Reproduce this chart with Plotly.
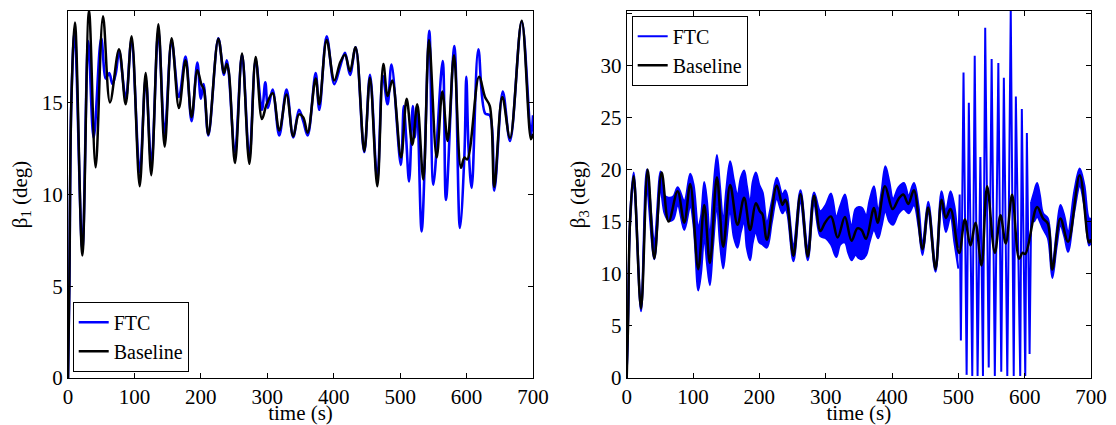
import plotly.graph_objects as go

# ---------------- data ----------------
x_ticks = [0, 100, 200, 300, 400, 500, 600, 700]
y1_ticks = [0, 5, 10, 15]
y3_ticks = [0, 5, 10, 15, 20, 25, 30, 35]

# Baseline pitch (identical for beta_1 and beta_3)
t_base = [0, 2, 5, 10.5, 21.6, 31.6, 41.6, 52.7, 63.2, 76.8, 86.8, 95.8, 107.9, 116.9,
          125.4, 136, 145.5, 156, 167, 177, 186, 194.7, 200.7, 204.7, 211.3, 226.3, 234.8,
          238.9, 242, 251.4, 262, 273, 282.5, 292, 299, 308, 318, 329, 339, 347.7, 354,
          360.8, 372.8, 378.3, 389.4, 400.9, 410, 417, 424.5, 433, 446, 454.6, 465.6,
          474.7, 481.2, 488.2, 501.3, 509.8, 518.3, 525.8, 534.9, 543.4, 555, 563.5, 571.5,
          581, 591.6, 596.6, 601, 618.7, 627.7, 635, 641.7, 653.8, 665.4, 683, 697, 700]
beta_base = [0, 5, 15, 19.35, 6.67, 20.0, 11.47, 19.7, 15.0, 17.9, 14.9, 18.6, 10.44, 16.6,
             11.04, 19.26, 12.6, 18.5, 14.7, 17.3, 14.2, 16.75, 16.0, 15.7, 13.26, 18.47, 16.6,
             17.1, 16.7, 11.7, 17.66, 11.66, 17.47, 14.1, 14.9, 15.5, 13.47, 15.44, 13.16, 14.35, 14.2,
             13.35, 16.3, 14.9, 18.4, 16.2, 17.2, 17.6, 16.7, 18.0, 12.35, 16.35, 10.44,
             17.1, 15.35, 16.2, 12.0, 15.2, 12.7, 14.9, 10.8, 18.4, 12.0, 15.6, 12.9,
             17.57, 11.44, 12.0, 11.9, 16.4, 15.3, 14.8, 10.4, 15.3, 13.07, 19.45, 13.0, 13.3]

# FTC beta_1
t_ftc1 = [0, 2, 5, 10, 21.6, 30.5, 38.6, 50, 57, 62, 67, 72, 77, 87, 95.5, 108, 117, 125.5,
          136, 145.5, 156, 167, 177, 186, 194.7, 200, 204, 211.3, 226.3, 234.8, 239, 242,
          251.4, 262, 273, 282.5, 292, 297, 301, 308, 318, 329, 339, 347.7, 354, 360.8,
          372.8, 378.3, 389.4, 400.9, 410, 417, 424.5, 433, 446, 454.6, 465.6, 474, 481, 487,
          501, 505.5, 509, 513.5, 519, 522, 525.5, 532.4, 543.9, 550, 564, 569, 581.6, 590,
          596.8, 599.6, 603, 607.7, 617.7, 628, 635, 641.7, 654.5, 665.4, 683, 697, 700]
beta1_ftc = [0, 5, 15, 18.9, 7.0, 18.35, 13.07, 18.5, 16.3, 16.6, 16.0, 16.6, 17.8, 15.2, 18.4,
             11.2, 16.3, 11.6, 18.9, 13.3, 18.3, 15.3, 17.5, 13.98, 17.17, 15.2, 16.0, 13.2, 18.5,
             16.5, 17.3, 16.6, 12.3, 17.6, 12.0, 17.3, 14.6, 16.1, 14.7, 15.7, 13.2, 15.7, 13.1,
             14.6, 14.0, 13.2, 16.6, 14.6, 18.6, 16.0, 17.0, 17.7, 16.5, 18.0, 12.3, 16.5, 10.8,
             16.44, 14.9, 17.07, 11.6, 14.8, 13.1, 10.7, 14.8, 13.1, 14.8, 7.98, 18.9, 10.53,
             17.26, 9.7, 18.07, 8.17, 12.2, 16.4, 12.5, 10.35, 17.9, 14.4, 14.3, 10.2, 15.6,
             12.9, 19.4, 13.2, 14.3]

# FTC beta_3: fast oscillation seen as a band (upper / lower envelope), 0-500 s
t_band_a = [0, 2, 5, 10.5, 21.6, 30.5, 41.6, 51, 57, 63, 70, 77, 86.8, 95.8, 101, 107.9, 112,
            116.9, 121, 125.4, 130, 136, 140.5, 145.5, 150, 156, 161.5, 167, 172, 177, 181,
            186, 190, 194.7, 200, 205, 211.3, 219, 226.3, 234.8, 238.9, 242, 251.4, 262, 273,
            282.5, 292, 300, 308, 316, 322, 329, 334, 339, 345, 350, 355, 361, 366, 372.8,
            379, 384, 390, 396, 401.5, 410, 418, 425, 433, 440, 446, 454.6, 465.6, 474.7,
            481.2, 488.2, 494, 500]
beta3_up_a = [0, 5.2, 15.5, 19.7, 7.4, 20.0, 13.3, 19.8, 17.5, 17.3, 17.4, 18.3, 17.0, 19.6,
              18.5, 14.5, 15.5, 18.8, 17.0, 13.5, 17.5, 21.4, 18.5, 15.0, 18.0, 20.8, 19.0,
              17.5, 19.2, 19.9, 18.5, 16.8, 18.8, 19.7, 18.5, 17.8, 15.0, 17.0, 19.2, 17.6,
              18.0, 17.5, 12.8, 18.0, 12.6, 17.8, 16.0, 16.6, 17.7, 15.5, 16.5, 17.6, 16.0,
              14.5, 16.2, 16.4, 16.3, 15.6, 17.0, 18.4, 16.0, 17.8, 20.3, 18.8, 17.2, 18.3,
              18.7, 17.5, 18.7, 16.5, 12.8, 16.9, 11.0, 17.9, 16.0, 17.9, 16.5, 12.5]
beta3_lo_a = [0, 4.8, 14.5, 18.3, 6.4, 17.8, 11.4, 18.0, 15.8, 15.1, 15.2, 16.6, 14.2, 16.5,
              14.5, 8.4, 10.0, 13.5, 11.0, 8.9, 12.5, 16.5, 13.0, 10.5, 13.0, 16.0, 13.5,
              12.5, 14.0, 15.0, 12.5, 11.3, 13.0, 14.0, 13.0, 12.8, 12.5, 15.0, 17.2, 15.8,
              16.2, 15.8, 11.2, 16.8, 11.3, 16.7, 13.6, 13.4, 12.8, 11.6, 12.8, 13.0, 12.0,
              11.3, 11.8, 11.5, 11.4, 11.8, 13.0, 14.2, 13.4, 14.5, 16.0, 15.0, 14.7, 15.8,
              16.2, 15.8, 16.6, 14.5, 11.8, 15.8, 10.2, 16.5, 14.0, 15.5, 13.0, 10.5]

# FTC beta_3: large spikes, 500-610 s
t_spk = [500, 502, 503.8, 507.8, 512.5, 515.8, 521, 524.7, 529, 533.2, 537.1, 540.5, 545.8,
         550.2, 555, 560.3, 564.7, 568.6, 573.8, 579, 583.5, 586.7, 593.3, 595.7, 600.9,
         603.3, 607.4, 610]
beta3_spk = [12.5, 17.6, 3.6, 29.3, 0.3, 26.4, 0.2, 30.9, 0.2, 21.2, 0.2, 33.6, 1.0, 30.6,
             0.2, 30.2, 0.6, 28.8, 0.2, 35.4, 0.2, 27.0, 0.2, 25.8, 0.2, 23.5, 2.3, 16.9]

# FTC beta_3: band again, 610-700 s
t_band_b = [610, 614, 618.7, 623, 627.7, 635, 641.7, 648, 654, 660, 665.4, 675, 683, 690, 697, 700]
beta3_up_b = [16.9, 17.8, 18.7, 17.5, 15.8, 15.3, 10.8, 14.0, 16.6, 15.5, 14.0, 18.0, 20.1, 18.5, 15.3, 15.3]
beta3_lo_b = [16.9, 15.0, 15.5, 15.0, 14.3, 13.4, 9.6, 12.5, 14.6, 13.5, 12.1, 16.0, 18.4, 16.5, 12.7, 13.0]

# ---------------- figure ----------------
FONT = "Liberation Serif"
BLUE = "#0000FF"
BLACK = "#000000"
FS = 21

fig = go.Figure()

# left panel
fig.add_trace(go.Scatter(x=t_ftc1, y=beta1_ftc, mode="lines", name="FTC",
                         line=dict(color=BLUE, width=2.6, shape="spline", smoothing=1),
                         xaxis="x", yaxis="y", legend="legend"))
fig.add_trace(go.Scatter(x=t_base, y=beta_base, mode="lines", name="Baseline",
                         line=dict(color=BLACK, width=2.5, shape="spline", smoothing=1),
                         xaxis="x", yaxis="y", legend="legend"))

# right panel
fig.add_trace(go.Scatter(x=t_band_a, y=beta3_up_a, mode="lines", name="FTC",
                         line=dict(color=BLUE, width=2, shape="spline", smoothing=1),
                         xaxis="x2", yaxis="y2", legend="legend2"))
fig.add_trace(go.Scatter(x=t_band_a, y=beta3_lo_a, mode="lines", name="FTC", showlegend=False,
                         line=dict(color=BLUE, width=2, shape="spline", smoothing=1),
                         fill="tonexty", fillcolor=BLUE,
                         xaxis="x2", yaxis="y2", legend="legend2"))
fig.add_trace(go.Scatter(x=t_spk, y=beta3_spk, mode="lines", name="FTC", showlegend=False,
                         line=dict(color=BLUE, width=2),
                         xaxis="x2", yaxis="y2", legend="legend2"))
fig.add_trace(go.Scatter(x=t_band_b, y=beta3_up_b, mode="lines", name="FTC", showlegend=False,
                         line=dict(color=BLUE, width=2, shape="spline", smoothing=1),
                         xaxis="x2", yaxis="y2", legend="legend2"))
fig.add_trace(go.Scatter(x=t_band_b, y=beta3_lo_b, mode="lines", name="FTC", showlegend=False,
                         line=dict(color=BLUE, width=2, shape="spline", smoothing=1),
                         fill="tonexty", fillcolor=BLUE,
                         xaxis="x2", yaxis="y2", legend="legend2"))
fig.add_trace(go.Scatter(x=t_base, y=beta_base, mode="lines", name="Baseline",
                         line=dict(color=BLACK, width=2.5, shape="spline", smoothing=1),
                         xaxis="x2", yaxis="y2", legend="legend2"))

tickfont = dict(family=FONT, size=FS, color="black")
common = dict(showline=True, linecolor="black", linewidth=1, mirror="ticks",
              ticks="inside", ticklen=5, tickcolor="black", tickwidth=1,
              showgrid=False, zeroline=False, tickfont=tickfont, automargin=False)

# The page body adds an 8 px margin, so the figure is 1108 x 417 and the
# domains are placed so the plot areas land where they are in the reference.
W, H = 1108, 417
ydom = [0.1127, 0.9928]
legfont = dict(family=FONT, size=20, color="black")
fig.update_layout(
    width=W, height=H,
    margin=dict(l=0, r=0, t=0, b=0),
    paper_bgcolor="white", plot_bgcolor="white",
    font=dict(family=FONT, size=FS, color="black"),
    xaxis=dict(domain=[0.05415, 0.47383], range=[0, 700], tickvals=x_ticks, anchor="y",
               title=dict(text="time (s)", font=tickfont, standoff=3), **common),
    yaxis=dict(domain=ydom, range=[0, 19.98], tickvals=y1_ticks, anchor="x",
               title=dict(text="β<sub>1</sub> (deg)", font=tickfont, standoff=9), **common),
    xaxis2=dict(domain=[0.55839, 0.97744], range=[0, 700], tickvals=x_ticks, anchor="y2",
                title=dict(text="time (s)", font=tickfont, standoff=3), **common),
    yaxis2=dict(domain=ydom, range=[0, 35.2], tickvals=y3_ticks, anchor="x2",
                title=dict(text="β<sub>3</sub> (deg)", font=tickfont, standoff=9), **common),
    legend=dict(x=0.0584, y=0.1278, xanchor="left", yanchor="bottom",
                bordercolor="black", borderwidth=1, bgcolor="white", traceorder="normal",
                font=legfont, tracegroupgap=0),
    legend2=dict(x=0.5629, y=0.9815, xanchor="left", yanchor="top",
                 bordercolor="black", borderwidth=1, bgcolor="white", traceorder="normal",
                 font=legfont, tracegroupgap=0),
    showlegend=True,
)

fig.write_html("out.html")
